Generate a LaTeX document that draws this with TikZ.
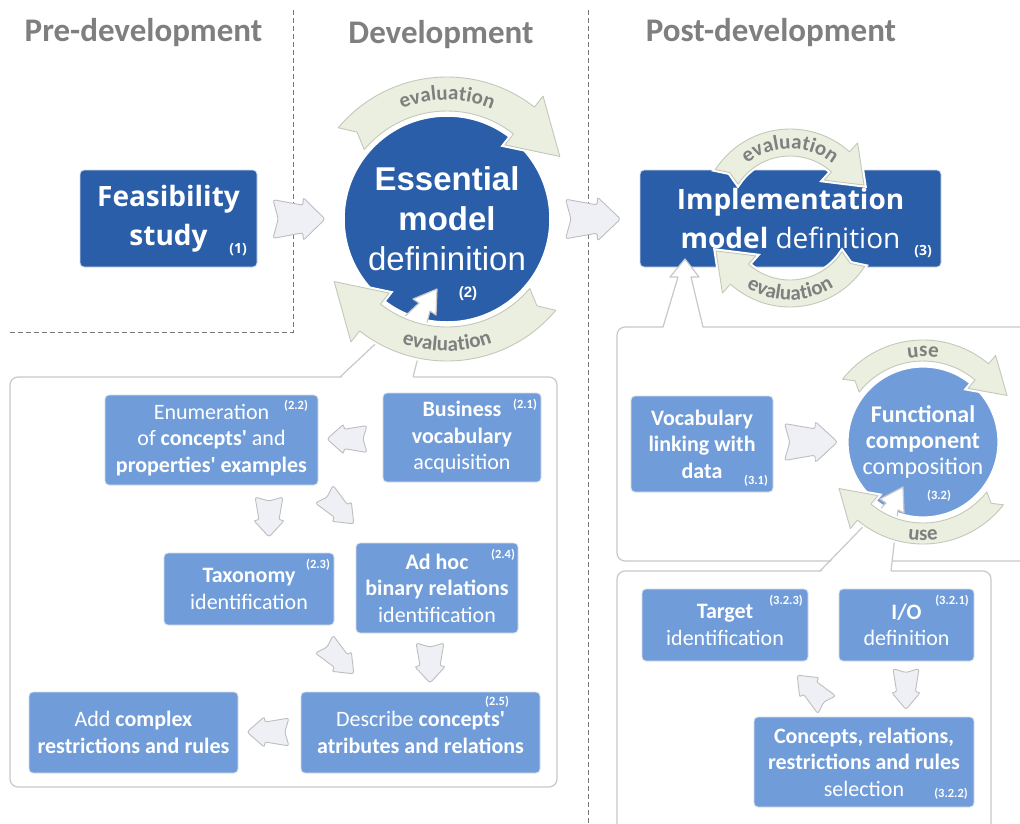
\documentclass[tikz,border=0pt]{standalone}
\usepackage{fontspec}
\newfontfamily\cf{Carlito}
\newfontfamily\arialf{Liberation Sans}
\newfontfamily\osans{Open Sans}
\usetikzlibrary{decorations.text}
\definecolor{dblue}{RGB}{42,94,168}
\definecolor{mblue}{RGB}{112,157,217}
\definecolor{arrfill}{RGB}{238,240,245}
\definecolor{arrdraw}{RGB}{190,190,190}
\definecolor{arcfill}{RGB}{235,239,224}
\definecolor{arcdraw}{RGB}{196,200,186}
\definecolor{labgray}{RGB}{127,127,127}
\definecolor{panelgray}{RGB}{200,200,200}
\definecolor{dashgray}{RGB}{120,120,120}
\definecolor{boxedge}{RGB}{215,222,232}
\tikzset{
 bbox/.style={rectangle, fill=mblue, draw=boxedge, line width=0.8pt, rounded corners=4pt, text=white, align=center, inner sep=0pt, font=\cf\fontsize{22}{26.5}\selectfont},
 dbox/.style={bbox, fill=dblue, font=\osans\fontsize{28}{39}\selectfont},
 lab/.style={text=white, inner sep=0pt, font=\cf\bfseries\fontsize{12.5}{12.5}\selectfont},
 labbig/.style={text=white, inner sep=0pt, font=\osans\bfseries\fontsize{14}{14}\selectfont},
 hdr/.style={text=labgray, inner sep=0pt, font=\cf\bfseries\fontsize{33}{33}\selectfont},
 panel/.style={fill=white, draw=panelgray, line width=1.2pt, rounded corners=8pt},
 pline/.style={draw=panelgray, line width=1.2pt, line join=round},
 dashline/.style={draw=dashgray, line width=0.9pt, dash pattern=on 5pt off 3pt},
 barrowsty/.style={fill=arrfill, draw=arrdraw, line width=0.9pt, rounded corners=2.5pt},
 arcsty/.style={fill=arcfill, draw=arcdraw, line width=0.9pt, line join=round, preaction={draw=white, line width=5pt}},
}
% block arrow: x, y (image coords), rotation, length, width
\newcommand\barrow[5]{%
 \filldraw[barrowsty, shift={(#1,-#2)}, rotate=#3, xscale=#4, yscale=#5]
 (-0.5,0.45) -- (0.08,0.32) -- (0.08,0.5) -- (0.5,0) -- (0.08,-0.5) -- (0.08,-0.32) -- (-0.5,-0.45) -- (-0.4,0) -- cycle;}
% curved arrow: center, rin, rout, tail angle, head-base angle, head rin, head rout, tip angle, tip radius
\newcommand\curvarrow[9]{%
 \begin{scope}[shift={#1}]
 \filldraw[arcsty] (#4:#3) arc[start angle=#4, end angle=#5, radius=#3] -- (#5:#7) -- (#8:#9) -- (#5:#6) -- (#5:#2) arc[start angle=#5, end angle=#4, radius=#2] -- ({#4-4}:{(#2+#3)/2}) -- cycle;
 \end{scope}}
% text along arc: center, start, end, radius, text
\newcommand\arclabel[5]{%
 \begin{scope}[shift={#1}]
 \path[decorate, decoration={text along path, text align=center, text={|\cf\bfseries\fontsize{21}{21}\selectfont\color{labgray}|#5}}] (#2:#4) arc[start angle=#2, end angle=#3, radius=#4];
 \end{scope}}
\begin{document}
\begin{tikzpicture}[x=1pt,y=1pt]
\useasboundingbox (0,0) rectangle (1020,-823);
\fill[white] (0,0) rectangle (1020,-823);

% phase separators
\draw[dashline] (293,-10) -- (293,-332) -- (8,-332);
\draw[dashline] (588,-10) -- (588,-823);

% headers
\node[hdr] (hpre) at (143.5,-33) {Pre-development};
\node[hdr] (hdev) at (441,-35) {Development};
\node[hdr] (hpost) at (771,-33) {Post-development};

% top row
\node[dbox, minimum width=177pt, minimum height=97pt] (feas) at (168.5,-218.5) {\textbf{Feasibility}\\\textbf{study}};
\node[labbig] (n1) at (238,-250) {(1)};
\node[circle, fill=dblue, draw=white, line width=1.5pt, minimum size=206pt, inner sep=0pt, text=white, align=center, font=\arialf\fontsize{33}{40}\selectfont] (ess) at (447,-219) {\textbf{Essential}\\\textbf{model}\\defininition};
\node[text=white, inner sep=0pt, font=\arialf\bfseries\fontsize{15}{15}\selectfont] (n2) at (468,-294) {(2)};
\node[dbox, minimum width=301pt, minimum height=97pt] (impl) at (790.5,-218.5) {\textbf{Implementation}\\\textbf{model} definition};
\node[labbig] (n3) at (923,-252) {(3)};

\barrow{299}{219}{0}{52}{43}
\barrow{593}{219}{0}{55}{44}

% left panel (details of the essential model)
\filldraw[panel] (10,-377) rectangle (557,-787);
\fill[white] (340,-379) -- (419,-303) -- (413,-299) -- (437,-289) -- (436,-315) -- (430,-311) -- (413,-379) -- cycle;
\draw[pline] (340,-377) -- (419,-303) -- (413,-299) -- (437,-289) -- (436,-315) -- (430,-311) -- (413,-377);

% evaluation arcs around the essential model
\curvarrow{(447,-219)}{108}{142}{140}{52}{94}{156}{29}{129}
\curvarrow{(447,-219)}{108}{142}{320}{232}{94}{156}{209}{129}
\arclabel{(447,-219)}{126}{54}{119}{evaluation}
\arclabel{(447,-219)}{234}{306}{132}{evaluation}

% upper right panel (details of implementation)
\filldraw[panel] (617,-327) rectangle (1045,-561);
\fill[white] (663,-329) -- (678,-277) -- (670,-277) -- (685,-259) -- (699,-277) -- (691,-277) -- (703,-329) -- cycle;
\draw[pline] (663,-327) -- (678,-277) -- (670,-277) -- (685,-259) -- (699,-277) -- (691,-277) -- (703,-327);

% evaluation arcs around implementation
\curvarrow{(790,-218)}{62}{89}{147}{48}{51}{101}{24}{81}
\curvarrow{(790,-218)}{62}{89}{327}{228}{51}{101}{204}{81}
\arclabel{(790,-218)}{145}{35}{69}{evaluation}
\arclabel{(790,-218)}{215}{325}{82}{evaluation}

% left panel boxes
\node[bbox, minimum width=213pt, minimum height=90pt] (enum) at (211.5,-440) {Enumeration\\of \textbf{concepts'} and\\\textbf{properties' examples}};
\node[lab] (n22) at (296,-406) {(2.2)};
\node[bbox, minimum width=158pt, minimum height=89pt] (biz) at (462,-437.5) {\textbf{Business}\\\textbf{vocabulary}\\acquisition};
\node[lab] (n21) at (525,-405) {(2.1)};
\node[bbox, minimum width=170pt, minimum height=72pt] (tax) at (249,-589) {\textbf{Taxonomy}\\identification};
\node[lab] (n23) at (318,-565) {(2.3)};
\node[bbox, minimum width=162pt, minimum height=90pt] (adhoc) at (437,-588) {\textbf{Ad hoc}\\\textbf{binary relations}\\identification};
\node[lab] (n24) at (503,-555) {(2.4)};
\node[bbox, minimum width=209pt, minimum height=81pt] (add) at (133.5,-732.5) {Add \textbf{complex}\\\textbf{restrictions and rules}};
\node[bbox, minimum width=239pt, minimum height=81pt] (desc) at (420.5,-732.5) {Describe \textbf{concepts'}\\\textbf{atributes and relations}};
\node[lab] (n25) at (497,-702) {(2.5)};

\barrow{347}{439}{180}{40}{30}
\barrow{269}{517}{-90}{40}{31}
\barrow{339}{509}{-45}{42}{28}
\barrow{339}{659}{-45}{42}{28}
\barrow{430}{663}{-90}{40}{31}
\barrow{268}{732}{180}{42}{31}

% upper right panel content
\node[bbox, minimum width=142pt, minimum height=96pt] (voc) at (702,-444) {\textbf{Vocabulary}\\\textbf{linking with}\\\textbf{data}};
\node[lab] (n31) at (756,-481) {(3.1)};
\node[circle, fill=mblue, draw=white, line width=1.2pt, minimum size=150pt, inner sep=0pt, text=white, align=center, font=\cf\fontsize{24}{26}\selectfont] (func) at (923,-442) {\textbf{Functional}\\\textbf{component}\\composition};
\node[lab] (n32) at (939,-496) {(3.2)};
\barrow{811}{442}{0}{53}{41}

% lower right panel
\filldraw[panel] (617,-571) rectangle (991,-845);
\fill[white] (820,-573) -- (886,-503) -- (880,-499) -- (903,-487) -- (904,-513) -- (898,-510) -- (891,-573) -- cycle;
\draw[pline] (820,-571) -- (886,-503) -- (880,-499) -- (903,-487) -- (904,-513) -- (898,-510) -- (891,-571);

% use arcs
\curvarrow{(923,-442)}{81}{102}{142}{50}{70}{113}{29}{96}
\curvarrow{(923,-442)}{81}{102}{322}{230}{70}{113}{209}{96}
\arclabel{(923,-442)}{110}{70}{85}{use}
\arclabel{(923,-442)}{250}{290}{98}{use}

% lower right panel content
\node[bbox, minimum width=166pt, minimum height=72pt] (target) at (725,-625) {\textbf{Target}\\identification};
\node[lab] (n323) at (786,-601) {(3.2.3)};
\node[bbox, minimum width=135pt, minimum height=72pt] (io) at (906.5,-625) {\textbf{I/O}\\definition};
\node[lab] (n321) at (952,-601) {(3.2.1)};
\node[bbox, minimum width=220pt, minimum height=90pt] (conc) at (864,-762) {\textbf{Concepts, relations,}\\\textbf{restrictions and rules}\\selection};
\node[lab] (n322) at (951,-794) {(3.2.2)};
\barrow{812}{690}{135}{42}{28}
\barrow{906}{689}{-90}{41}{29}
\end{tikzpicture}
\end{document}
